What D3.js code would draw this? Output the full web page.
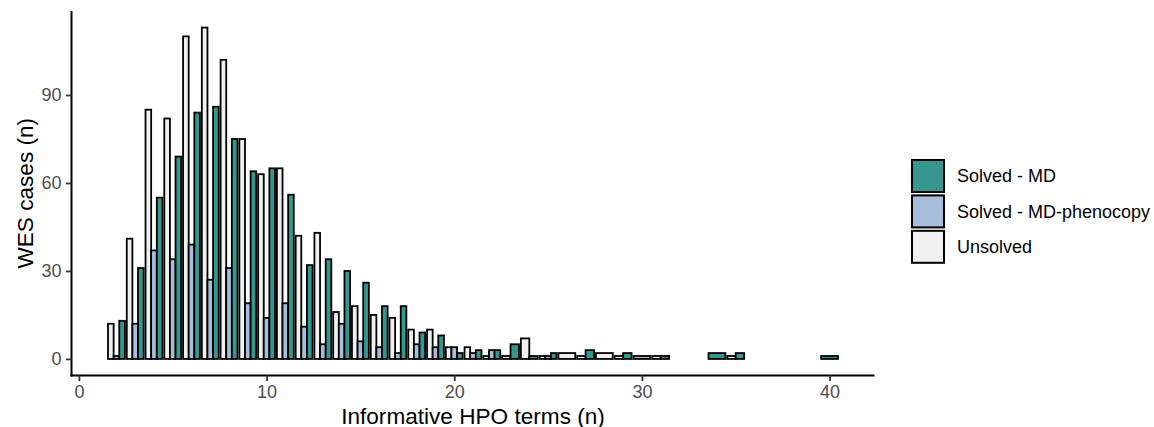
<!DOCTYPE html>
<html>
<head>
<meta charset="utf-8">
<script src="https://cdn.jsdelivr.net/npm/d3@7"></script>
<style>
  html, body { margin: 0; padding: 0; background: #fff; }
  svg { display: block; font-family: "Liberation Sans", Arial, Helvetica, sans-serif; }
</style>
</head>
<body>
<svg id="chart" width="1154" height="427"></svg>
<script>
// ---- data (0 = no bar at that x for that group) ----
const hpoTerms   = [2, 3, 4, 5, 6, 7, 8, 9, 10, 11, 12, 13, 14, 15, 16, 17, 18, 19, 20, 21, 22, 23, 24, 25, 26, 27, 28, 29, 30, 31, 34, 35, 40];
const unsolved   = [12, 41, 85, 82, 110, 113, 102, 75, 63, 65, 42, 43, 16, 18, 15, 14, 10, 10, 4, 4, 1, 1, 7, 1, 2, 1, 2, 1, 0, 1, 0, 1, 0];
const phenocopy  = [1, 12, 37, 34, 39, 27, 31, 19, 14, 19, 11, 5, 12, 6, 4, 2, 5, 4, 4, 2, 3, 0, 0, 1, 0, 0, 0, 0, 1, 0, 0, 0, 0];
const solvedMD   = [13, 31, 55, 69, 84, 86, 75, 64, 65, 56, 32, 34, 30, 26, 18, 18, 9, 8, 2, 3, 3, 5, 1, 2, 0, 3, 0, 2, 0, 1, 2, 2, 1];
const groupNames = ["Unsolved", "Solved - MD-phenocopy", "Solved - MD"];
const legendOrder = ["Solved - MD", "Solved - MD-phenocopy", "Unsolved"];
const groupColors = ["#F0F0F0", "#A6BDDB", "#35978F"];
const xTicks = [0, 10, 20, 30, 40];
const yTicks = [0, 30, 60, 90];

// ---- layout ----
const svg = d3.select("#chart");
const panel = { left: 71.5, right: 874.5, top: 11, bottom: 375.5 };

const series = [unsolved, phenocopy, solvedMD];

// build dodged bars: width 0.9 split among groups present at each x
const bars = [];
hpoTerms.forEach((x, i) => {
  const present = series.map((s, g) => ({ g, v: s[i] })).filter(d => d.v > 0);
  const n = present.length;
  const w = 0.9 / n;
  present.forEach((d, k) => {
    bars.push({ x0: x - 0.45 + k * w, x1: x - 0.45 + (k + 1) * w, v: d.v, g: d.g });
  });
});

const xMin = d3.min(bars, d => d.x0), xMax = d3.max(bars, d => d.x1);
const xPad = (xMax - xMin) * 0.05;
const x = d3.scaleLinear().domain([xMin - xPad, xMax + xPad]).range([panel.left, panel.right]);
const yMax = d3.max(bars, d => d.v);
const y = d3.scaleLinear().domain([-yMax * 0.05, yMax * 1.05]).range([panel.bottom, panel.top]);

// bars
svg.append("g").selectAll("rect").data(bars).join("rect")
  .attr("x", d => x(d.x0))
  .attr("width", d => x(d.x1) - x(d.x0))
  .attr("y", d => y(d.v))
  .attr("height", d => y(0) - y(d.v))
  .attr("fill", d => groupColors[d.g])
  .attr("stroke", "#000")
  .attr("stroke-width", 1.8);

// axes
const xAxis = svg.append("g").attr("transform", `translate(0,${panel.bottom})`)
  .call(d3.axisBottom(x).tickValues(xTicks).tickSize(5.6).tickPadding(4.5).tickSizeOuter(0));
const yAxis = svg.append("g").attr("transform", `translate(${panel.left},0)`)
  .call(d3.axisLeft(y).tickValues(yTicks).tickSize(5.6).tickPadding(4.5).tickSizeOuter(0));
[xAxis, yAxis].forEach(a => {
  a.attr("font-size", 18).attr("font-family", "Liberation Sans, Arial, sans-serif");
  a.select(".domain").attr("stroke", "#000").attr("stroke-width", 2);
  a.selectAll(".tick line").attr("stroke", "#333").attr("stroke-width", 1.8);
  a.selectAll(".tick text").attr("fill", "#4D4D4D").attr("font-size", 18);
});
// extend domains to full panel
xAxis.select(".domain").attr("d", `M${panel.left - 1},0H${panel.right}`);
yAxis.select(".domain").attr("d", `M0,${panel.top}V${panel.bottom + 1}`);

// axis titles
svg.append("text")
  .attr("x", (panel.left + panel.right) / 2).attr("y", 423.5)
  .attr("text-anchor", "middle").attr("font-size", 22.6).attr("fill", "#000")
  .text("Informative HPO terms (n)");
svg.append("text")
  .attr("transform", `translate(33,${(panel.top + panel.bottom) / 2}) rotate(-90)`)
  .attr("text-anchor", "middle").attr("font-size", 22.6).attr("fill", "#000")
  .text("WES cases (n)");

// legend
const lg = svg.append("g").attr("transform", "translate(911,159)");
legendOrder.forEach((name, i) => {
  const g = groupNames.indexOf(name);
  const row = lg.append("g").attr("transform", `translate(0,${i * 35.4})`);
  row.append("rect").attr("x", 1).attr("y", 1).attr("width", 32).attr("height", 32)
    .attr("fill", groupColors[g]).attr("stroke", "#000").attr("stroke-width", 2);
  row.append("text").attr("x", 46).attr("y", 17).attr("dy", "0.35em")
    .attr("font-size", 18).attr("fill", "#000").text(name);
});
</script>
</body>
</html>
